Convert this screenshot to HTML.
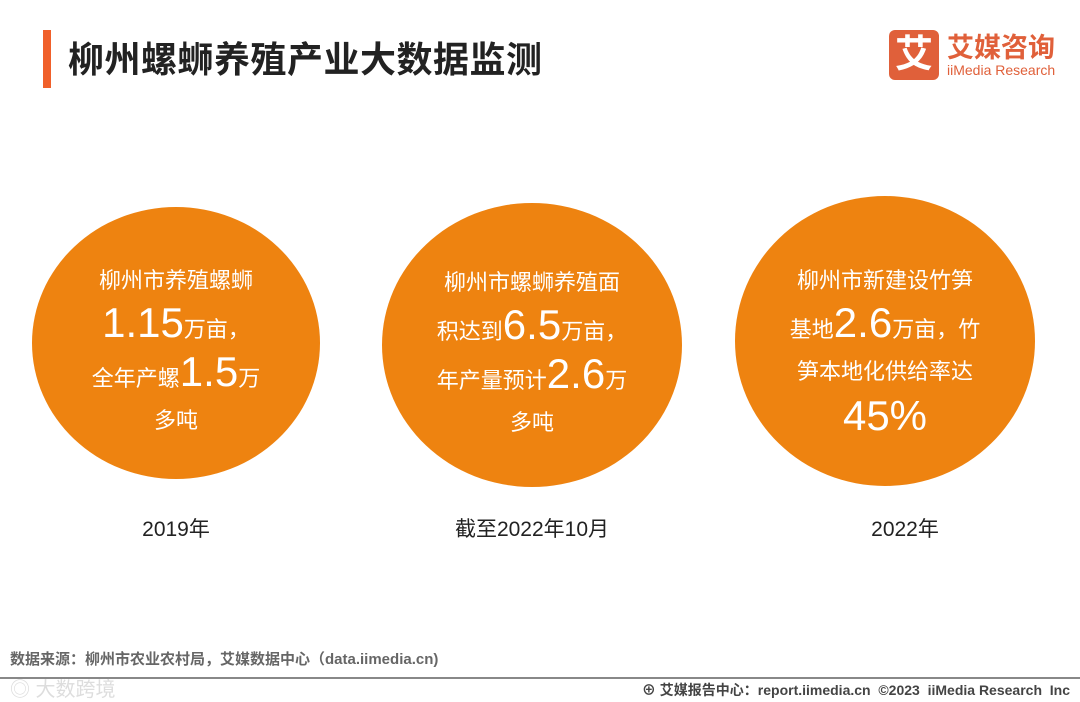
<!DOCTYPE html>
<html><head><meta charset="utf-8"><style>
body{margin:0;width:1080px;height:702px;background:#fff;position:relative;overflow:hidden;font-family:"Liberation Sans","Noto Sans CJK SC",sans-serif;}
.abs{position:absolute}
.title{left:68px;top:31px;font-size:36px;font-weight:bold;color:#222;letter-spacing:0.5px;white-space:nowrap}
.bar{left:43px;top:30px;width:8px;height:58px;background:#f0602a}
.circ{background:#ee8310;border-radius:50%;color:#fff;text-align:center;display:flex;flex-direction:column;justify-content:center;font-size:22px;line-height:42px;font-weight:normal;box-sizing:border-box;padding-top:16px}
.big{font-size:42px}
.yr{font-size:21px;color:#222;text-align:center;width:300px}
</style></head><body>
<div class="abs bar"></div>
<div class="abs title">柳州螺蛳养殖产业大数据监测</div>
<div class="abs" style="left:889px;top:30px;width:170px;height:50px">
 <div class="abs" style="left:0;top:0;width:50px;height:50px;background:#e0603a;border-radius:6px;color:#fff;font-size:38px;line-height:50px;text-align:center;font-weight:bold">艾</div>
 <div class="abs" style="left:58px;top:-4px;font-size:27px;color:#e0603a;font-weight:bold;white-space:nowrap">艾媒咨询</div>
 <div class="abs" style="left:58px;top:32px;font-size:14px;color:#e0603a;white-space:nowrap">iiMedia Research</div>
</div>
<div class="abs circ" style="left:32px;top:207px;width:288px;height:272px">
 <div>柳州市养殖螺蛳</div><div><span class="big">1.15</span>万亩，</div><div>全年产螺<span class="big">1.5</span>万</div><div>多吨</div></div>
<div class="abs circ" style="left:382px;top:203px;width:300px;height:284px">
 <div>柳州市螺蛳养殖面</div><div>积达到<span class="big">6.5</span>万亩，</div><div>年产量预计<span class="big">2.6</span>万</div><div>多吨</div></div>
<div class="abs circ" style="left:735px;top:196px;width:300px;height:290px">
 <div>柳州市新建设竹笋</div><div>基地<span class="big">2.6</span>万亩，竹</div><div>笋本地化供给率达</div><div class="big" style="line-height:46px">45%</div></div>
<div class="abs yr" style="left:26px;top:513px">2019年</div>
<div class="abs yr" style="left:382px;top:513px">截至2022年10月</div>
<div class="abs yr" style="left:755px;top:513px">2022年</div>
<div class="abs" style="left:10px;top:648px;font-size:15px;font-weight:bold;color:#666">数据来源：柳州市农业农村局，艾媒数据中心（data.iimedia.cn)</div>
<div class="abs" style="left:0;top:677px;width:1080px;height:2px;background:#888"></div>
<div class="abs" style="left:10px;top:673px;font-size:20px;color:#ddd">◎ 大数跨境</div>
<div class="abs" style="right:10px;top:680px;font-size:14px;color:#444;font-weight:bold">⊕ 艾媒报告中心：report.iimedia.cn &nbsp;©2023 &nbsp;iiMedia Research &nbsp;Inc</div>
</body></html>
